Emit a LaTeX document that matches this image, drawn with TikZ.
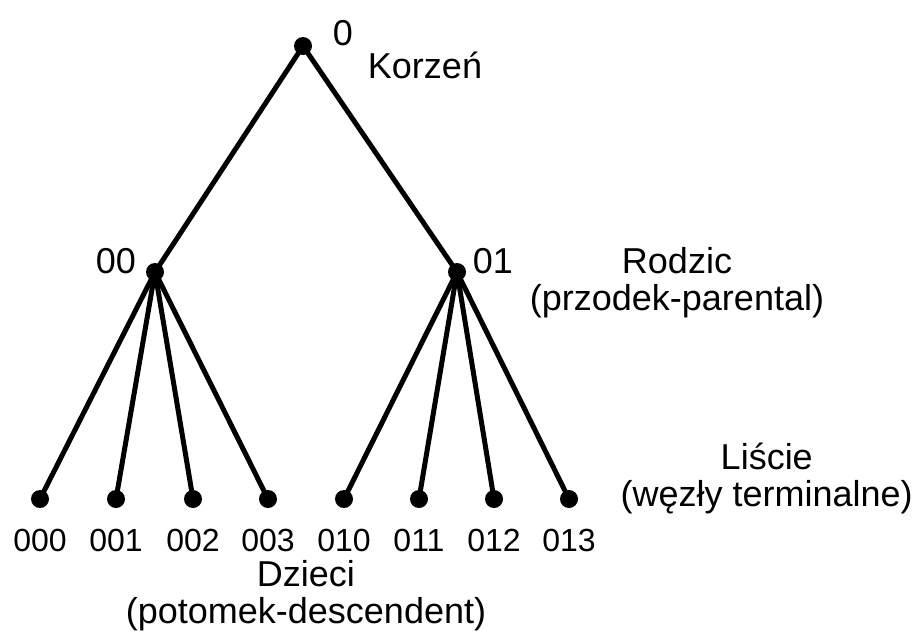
\documentclass[tikz,border=0pt]{standalone}
\usepackage{fontspec}
\setmainfont{Liberation Sans}
\begin{document}
\begin{tikzpicture}[x=1pt,y=-1pt,
  dot/.style={circle,fill=black,inner sep=0pt,minimum size=18pt},
  edge/.style={line width=5pt},
  lbl/.style={font=\fontsize{36}{37}\selectfont,inner sep=0pt,align=center},
  leaflbl/.style={font=\fontsize{32}{36}\selectfont,inner sep=0pt,anchor=base}]
\useasboundingbox (0,0) rectangle (916,630);
\node[dot] (r) at (303,46) {};
\node[dot] (a) at (155,272) {};
\node[dot] (b) at (457,272) {};
\foreach \n/\x in {000/40,001/116,002/193,003/268,010/344,011/419,012/494,013/569}{
  \node[dot] (l\n) at (\x,499) {};
  \node[leaflbl] (t\n) at (\x,551) {\n};
}
\draw[edge] (r.center) -- (a.center);
\draw[edge] (r.center) -- (b.center);
\foreach \n in {000,001,002,003}{\draw[edge] (a.center) -- (l\n.center);}
\foreach \n in {010,011,012,013}{\draw[edge] (b.center) -- (l\n.center);}
\node[lbl,anchor=base] (t0) at (343,45) {0};
\node[lbl,anchor=base] (tk) at (425,78) {Korzeń};
\node[lbl,anchor=base] (t00) at (116,273) {00};
\node[lbl,anchor=base] (t01) at (493,273) {01};
\node[lbl,anchor=base] (tr) at (677,310) {Rodzic\\(przodek-parental)};
\node[lbl,anchor=base east] (tl) at (913,506) {Liście\\(węzły terminalne)};
\node[lbl,anchor=base] (td) at (306,623) {Dzieci\\(potomek-descendent)};
\end{tikzpicture}
\end{document}
